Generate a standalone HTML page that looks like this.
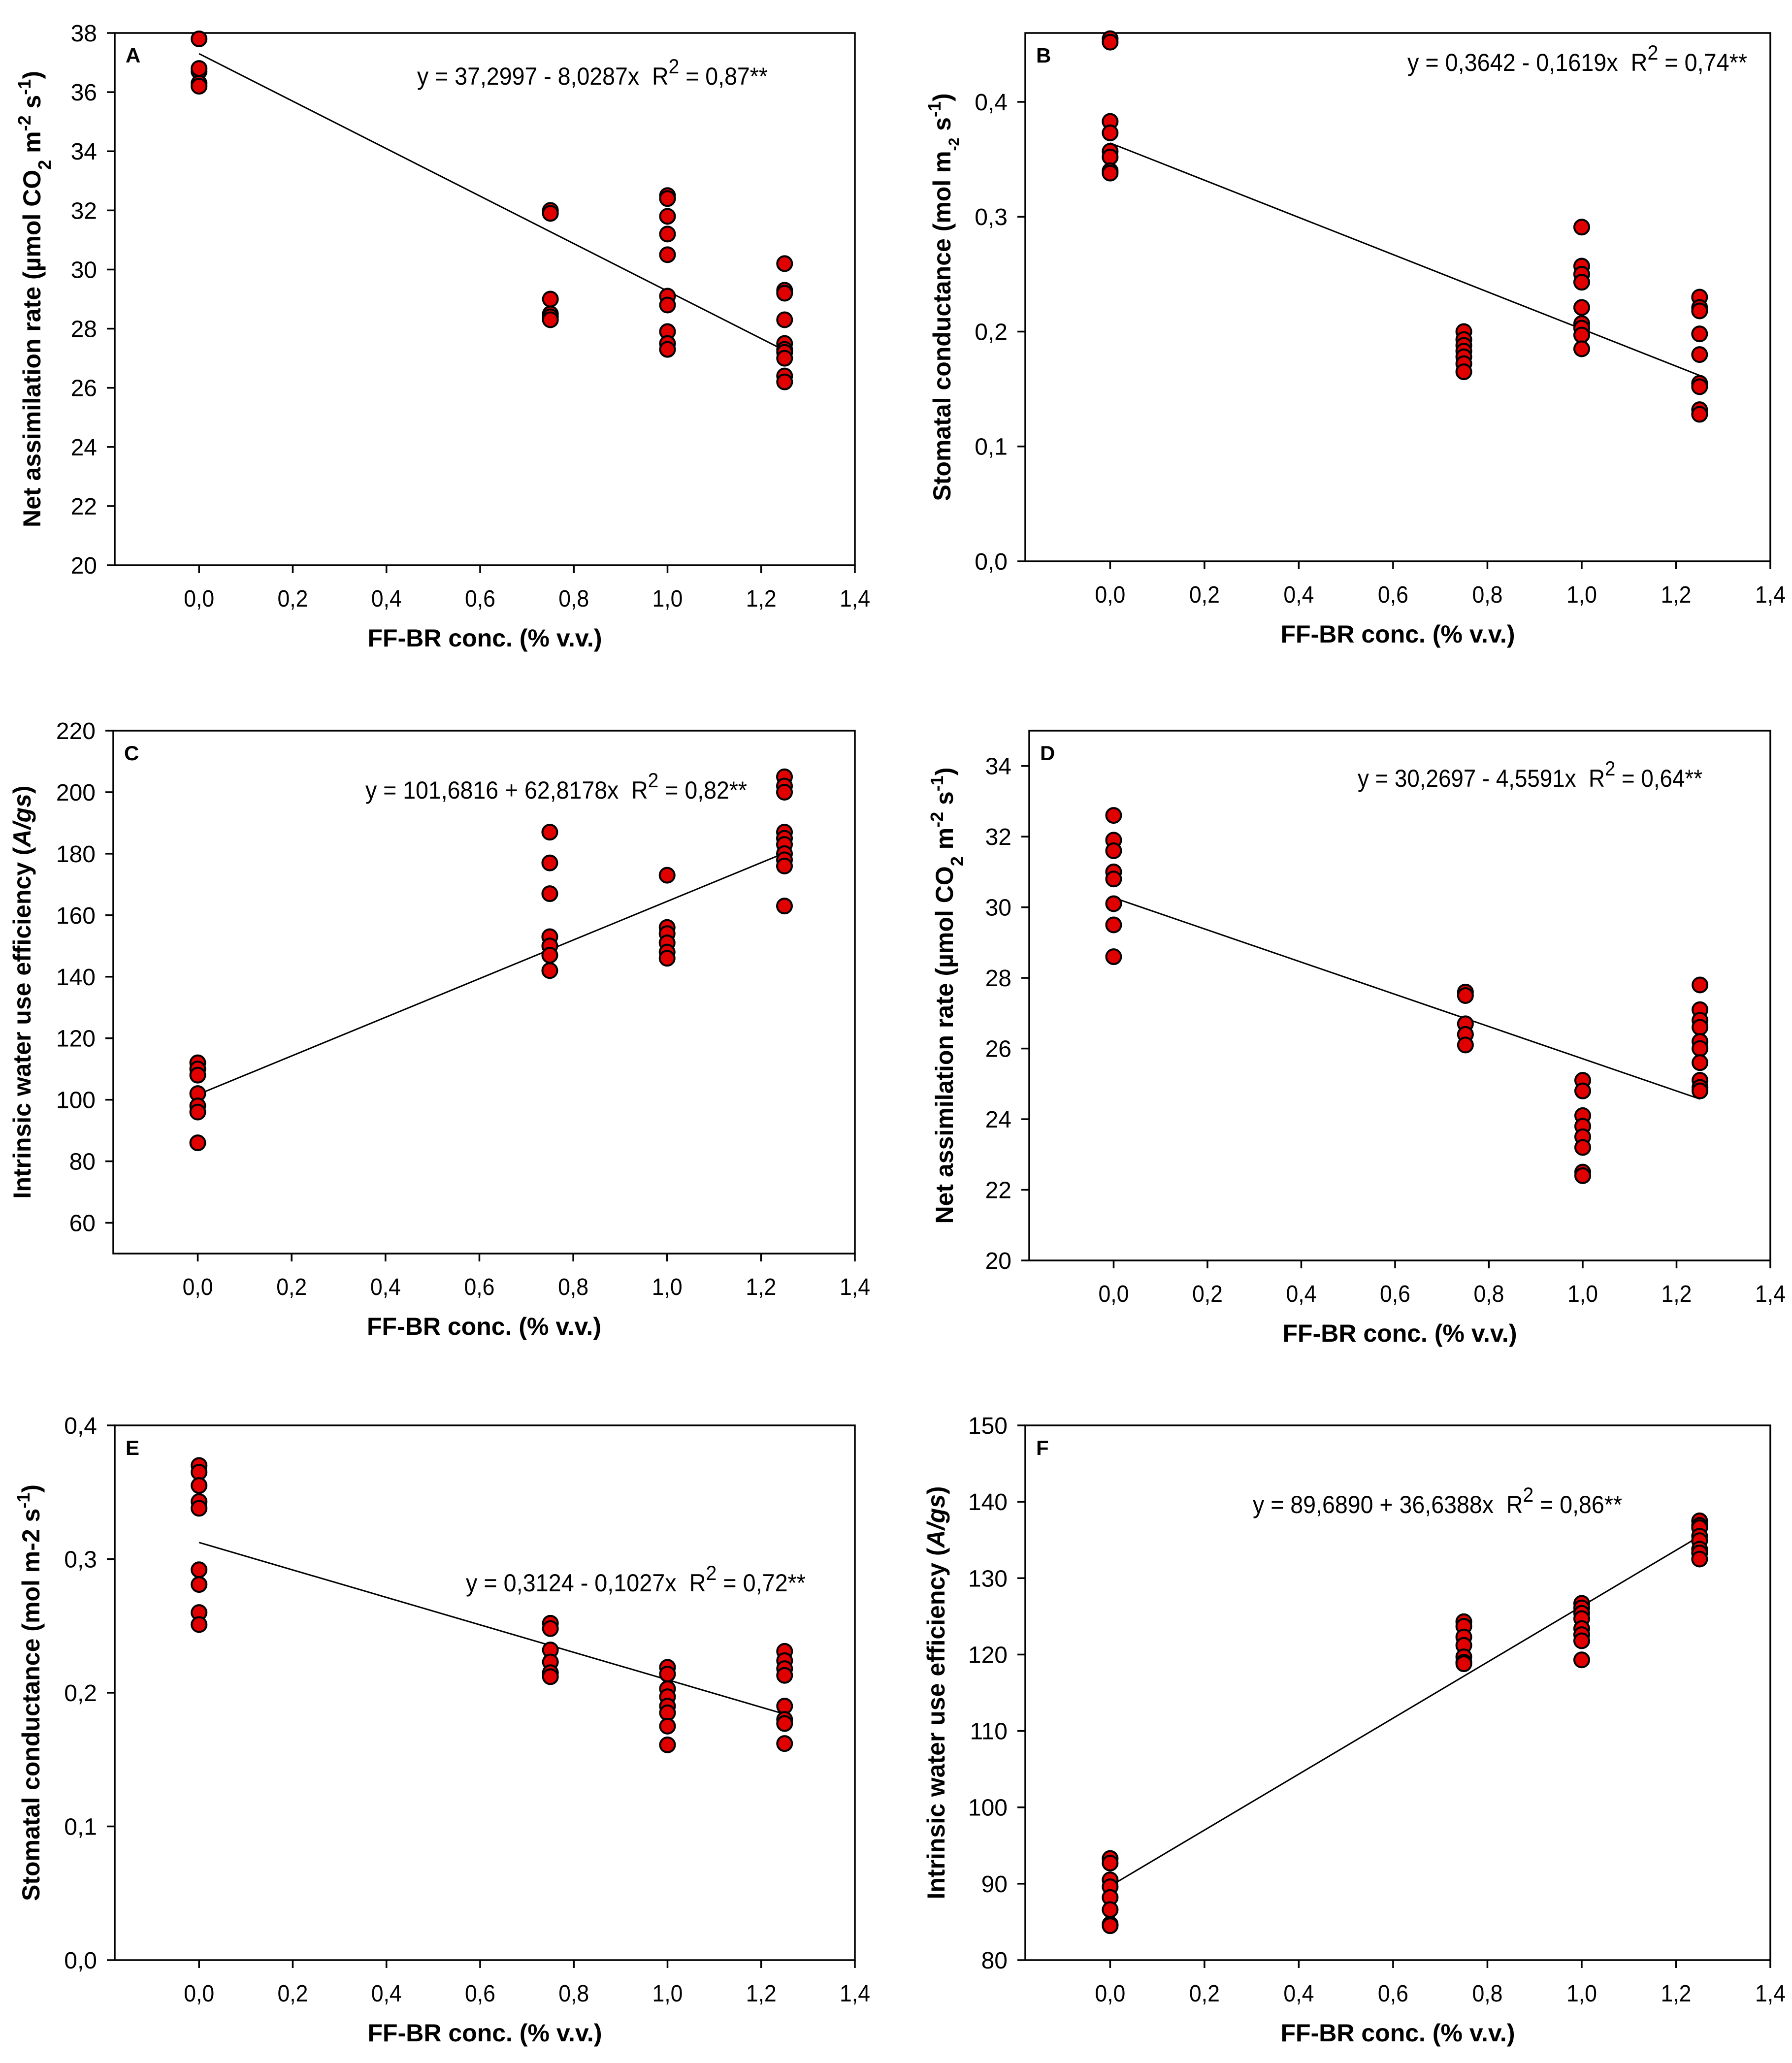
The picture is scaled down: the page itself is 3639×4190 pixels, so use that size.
<!DOCTYPE html>
<html><head><meta charset="utf-8"><style>
html,body{margin:0;padding:0;background:#fff}
svg{display:block;font-family:"Liberation Sans",Arial,sans-serif}
</style></head><body>
<svg id="fig" width="3639" height="4190" viewBox="0 0 3639 4190" xmlns="http://www.w3.org/2000/svg"></svg>
<script>
// ---- data ----
const xTicks=[0,0.2,0.4,0.6,0.8,1.0,1.2,1.4];
const xLevels=[0,0.75,1.0,1.25];
// Panel A
const aY0=[37.8,36.7,36.8,36.3,36.2];
const aY1=[32.0,31.9,29.0,28.5,28.4,28.3];
const aY2=[32.5,32.4,31.8,31.2,30.5,29.1,28.8,27.9,27.5,27.3];
const aY3=[30.2,29.3,29.2,28.3,27.5,27.3,27.2,27.0,26.4,26.2];
const aFit=[37.2997,-8.0287];
const aTicks=[20,22,24,26,28,30,32,34,36,38];
// Panel B
const bY0=[0.455,0.452,0.383,0.373,0.357,0.352,0.340,0.338];
const bY1=[0.200,0.193,0.188,0.183,0.178,0.172,0.165];
const bY2=[0.291,0.257,0.250,0.243,0.221,0.207,0.203,0.197,0.185];
const bY3=[0.230,0.221,0.218,0.198,0.180,0.155,0.152,0.132,0.128];
const bFit=[0.3642,-0.1619];
const bTicks=[0,0.1,0.2,0.3,0.4];
// Panel C
const cY0=[112,110,108,102,98,96,86];
const cY1=[187,177,167,153,150,147,142];
const cY2=[173,156,154,151,148,146];
const cY3=[205,202,200,187,185,183,180,178,176,163];
const cFit=[101.6816,62.8178];
const cTicks=[60,80,100,120,140,160,180,200,220];
// Panel D
const dY0=[32.6,31.9,31.6,31.0,30.8,30.1,29.5,28.6];
const dY1=[27.6,27.5,26.7,26.4,26.1];
const dY2=[25.1,24.8,24.1,23.8,23.5,23.2,22.5,22.4];
const dY3=[27.8,27.1,26.8,26.6,26.2,26.0,25.6,25.1,24.9,24.8];
const dFit=[30.2697,-4.5591];
const dTicks=[20,22,24,26,28,30,32,34];
// Panel E
const eY0=[0.370,0.365,0.355,0.343,0.338,0.292,0.281,0.260,0.251];
const eY1=[0.252,0.248,0.232,0.223,0.215,0.212];
const eY2=[0.219,0.214,0.203,0.197,0.190,0.185,0.175,0.161];
const eY3=[0.231,0.224,0.218,0.213,0.190,0.180,0.177,0.162];
const eFit=[0.3124,-0.1027];
const eTicks=[0,0.1,0.2,0.3,0.4];
// Panel F
const fY0=[93.3,92.7,90.5,89.6,88.2,86.6,84.7,84.5];
const fY1=[124.3,123.7,122.3,121.2,119.7,119.0,118.8];
const fY2=[126.7,126.1,125.4,124.7,123.4,122.6,121.8,119.3];
const fY3=[137.5,136.9,136.6,135.5,134.9,133.8,133.3,132.5];
const fFit=[89.6890,36.6388];
const fTicks=[80,90,100,110,120,130,140,150];

const NS="http://www.w3.org/2000/svg";
const svg=document.getElementById('fig');
function mk(tag,attrs,parent){const e=document.createElementNS(NS,tag);for(const k in attrs)e.setAttribute(k,attrs[k]);(parent||svg).appendChild(e);return e;}
function fmt(v,d){return v.toFixed(d).replace('.',',');}

function panel(p){
  const g=mk('g',{});
  
  
  const X=v=>p.L+(v-(-0.18))/(1.4+0.18)*(p.R-p.L);
  const Y=v=>p.B-(v-p.ymin)/(p.ymax-p.ymin)*(p.B-p.T);
  const frame=mk('rect',{x:p.L,y:p.T,width:p.R-p.L,height:p.B-p.T,fill:'none',stroke:'#000','stroke-width':3.5},g);
  
  
  xTicks.forEach(t=>{
    mk('line',{x1:X(t),x2:X(t),y1:p.B,y2:p.B+16,stroke:'#000','stroke-width':3.5},g);
    const tx=mk('text',{x:X(t),y:p.B+84,'font-size':48,'text-anchor':'middle','textLength':62,'lengthAdjust':'spacingAndGlyphs'},g);
    tx.textContent=fmt(t,1);
    
    
  });
  p.ticks.forEach(t=>{
    mk('line',{x1:p.L-16,x2:p.L,y1:Y(t),y2:Y(t),stroke:'#000','stroke-width':3.5},g);
    const tx=mk('text',{x:p.L-36,y:Y(t)+17,'font-size':48,'text-anchor':'end'},g);
    tx.textContent=fmt(t,p.dec);
    
    
  });
  const xt=mk('text',{x:(p.L+p.R)/2,y:p.B+165,'font-size':50,'font-weight':'bold','text-anchor':'middle'},g);
  xt.textContent='FF-BR conc. (% v.v.)';
  
  
  const cy=(p.T+p.B)/2;
  const yt=mk('text',{x:0,y:0,'font-size':50,'font-weight':'bold','text-anchor':'middle',transform:`translate(${p.ytx},${cy}) rotate(-90)`},g);
  yt.innerHTML=p.ytitle;
  
  
  const lt=mk('text',{x:p.L+22,y:p.T+60,'font-size':42,'font-weight':'bold'},g);
  lt.textContent=p.id;
  
  
  const fl=mk('line',{x1:X(0),y1:Y(p.fit[0]),x2:X(1.25),y2:Y(p.fit[0]+p.fit[1]*1.25),stroke:'#000','stroke-width':3},g);
  
  
  p.series.forEach((arr,i)=>{
    arr.forEach(v=>{
      const c=mk('circle',{cx:X(xLevels[i]),cy:Y(v),r:15,fill:'#e00000',stroke:'#000','stroke-width':4},g);
      
      
    });
  });
  const eq=mk('text',{x:p.ex,y:p.ey,'font-size':50,'textLength':p.ew,'lengthAdjust':'spacingAndGlyphs'},g);
  eq.innerHTML=p.eq;
  
  
}
const netA='Net assimilation rate (µmol CO<tspan baseline-shift="sub" font-size="36">2</tspan> m<tspan baseline-shift="super" font-size="36">-2</tspan> s<tspan baseline-shift="super" font-size="36">-1</tspan>)';
const wue='Intrinsic water use efficiency (<tspan font-style="italic">A/gs</tspan>)';
function eqs(a,r){return `y = ${a}\u00a0\u00a0R<tspan baseline-shift="super" font-size="42">2</tspan> = ${r}**`;}
panel({id:'A',L:233,R:1736,T:67,B:1148,ymin:20,ymax:38,ticks:aTicks,dec:0,series:[aY0,aY1,aY2,aY3],fit:aFit,ytx:82,ytitle:netA,ex:847,ey:172,ew:712,eq:eqs('37,2997 - 8,0287x','0,87')});
panel({id:'B',L:2082,R:3595,T:67,B:1140,ymin:0,ymax:0.46,ticks:bTicks,dec:1,series:[bY0,bY1,bY2,bY3],fit:bFit,ytx:1930,ytitle:'Stomatal conductance (mol m<tspan baseline-shift="sub" font-size="30">-2</tspan> s<tspan baseline-shift="super" font-size="36">-1</tspan>)',ex:2858,ey:144,ew:690,eq:eqs('0,3642 - 0,1619x','0,74')});
panel({id:'C',L:230,R:1736,T:1484,B:2546,ymin:50,ymax:220,ticks:cTicks,dec:0,series:[cY0,cY1,cY2,cY3],fit:cFit,ytx:62,ytitle:wue,ex:742,ey:1622,ew:775,eq:eqs('101,6816 + 62,8178x','0,82')});
panel({id:'D',L:2090,R:3595,T:1484,B:2560,ymin:20,ymax:35,ticks:dTicks,dec:0,series:[dY0,dY1,dY2,dY3],fit:dFit,ytx:1935,ytitle:netA,ex:2757,ey:1598,ew:700,eq:eqs('30,2697 - 4,5591x','0,64')});
panel({id:'E',L:233,R:1736,T:2895,B:3981,ymin:0,ymax:0.4,ticks:eTicks,dec:1,series:[eY0,eY1,eY2,eY3],fit:eFit,ytx:80,ytitle:'Stomatal conductance (mol m-2 s<tspan baseline-shift="super" font-size="36">-1</tspan>)',ex:946,ey:3232,ew:690,eq:eqs('0,3124 - 0,1027x','0,72')});
panel({id:'F',L:2082,R:3595,T:2895,B:3981,ymin:80,ymax:150,ticks:fTicks,dec:0,series:[fY0,fY1,fY2,fY3],fit:fFit,ytx:1918,ytitle:wue,ex:2544,ey:3073,ew:750,eq:eqs('89,6890 + 36,6388x','0,86')});
</script>
</body></html>
